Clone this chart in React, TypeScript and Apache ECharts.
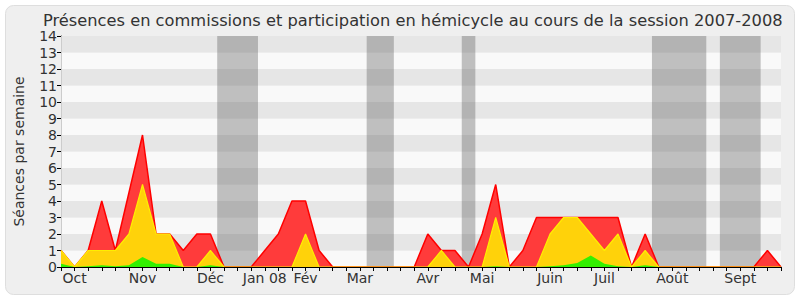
import React, { useEffect, useRef } from "react";
import * as echarts from "echarts";

// Weekly values (cumulative heights as drawn), 54 weeks from late Sept 2007 to Sept 2008
const presenceTotal = [1, 0, 1, 4, 1, 4.5, 8, 2, 2, 1, 2, 2, 0, 0, 0, 1, 2, 4, 4, 1, 0, 0, 0, 0, 0, 0, 0, 2, 1, 1, 0, 2, 5, 0, 1, 3, 3, 3, 3, 3, 3, 3, 0, 2, 0, 0, 0, 0, 0, 0, 0, 0, 1, 0];
const presenceHemicycle = [1, 0, 1, 1, 1, 2, 5, 2, 2, 0, 0, 1, 0, 0, 0, 0, 0, 0, 2, 0, 0, 0, 0, 0, 0, 0, 0, 0, 1, 0, 0, 0, 3, 0, 0, 0, 2, 3, 3, 2, 1, 2, 0, 1, 0, 0, 0, 0, 0, 0, 0, 0, 0, 0];
const interventions = [0.2, 0, 0.05, 0.1, 0.05, 0.1, 0.6, 0.2, 0.2, 0, 0, 0.1, 0, 0, 0, 0, 0, 0, 0, 0, 0, 0, 0, 0, 0, 0, 0, 0, 0, 0, 0, 0, 0.05, 0, 0, 0, 0.05, 0.1, 0.25, 0.7, 0.2, 0.05, 0, 0.1, 0, 0, 0, 0, 0, 0, 0, 0, 0, 0];

// Month tick labels: week index -> label
const monthWeeks = [1, 6, 11, 15, 18, 22, 27, 31, 36, 40, 45, 50];
const monthLabels = ["Oct", "Nov", "Déc", "Jan 08", "Fév", "Mar", "Avr", "Mai", "Juin", "Juil", "Août", "Sept"];

// Parliamentary recess periods (week ranges)
const recessStart = [11.5, 22.5, 29.5, 43.5, 48.5];
const recessEnd = [14.5, 24.5, 30.5, 47.5, 51.5];

const FONT = "DejaVu Sans";

export default function App() {
  const ref = useRef<HTMLDivElement>(null);
  useEffect(() => {
    if (!ref.current) return;
    const chart = echarts.init(ref.current, undefined, { renderer: "svg" });
    const toPairs = (arr: number[]) => arr.map((v, i) => [i, v]);
    const nWeeks = presenceTotal.length - 1;
    chart.setOption({
      animation: false,
      backgroundColor: "#ffffff",
      graphic: [
        {
          type: "rect",
          z: -10,
          shape: { x: 5.5, y: 5.5, width: 789, height: 289, r: 8 },
          style: { fill: "#efefef", stroke: "#dedede", lineWidth: 1 },
        },
      ],
      title: {
        text: "Présences en commissions et participation en hémicycle au cours de la session 2007-2008",
        left: 38,
        top: 7,
        textStyle: { fontFamily: FONT, fontSize: 16.25, fontWeight: "normal", color: "#333333" },
      },
      grid: { left: 61, right: 19, top: 36, bottom: 33, containLabel: false, show: false },
      xAxis: [
        {
          type: "value",
          min: 0,
          max: nWeeks,
          interval: 1,
          position: "bottom",
          z: 10,
          axisLine: { show: true, lineStyle: { color: "#000000", width: 1 } },
          axisTick: { show: true, length: 4, lineStyle: { color: "#000000" } },
          splitLine: { show: false },
          axisLabel: {
            fontFamily: FONT,
            fontSize: 14,
            color: "#333333",
            margin: 4,
            formatter: (v: number) => {
              const k = monthWeeks.indexOf(Math.round(v));
              return k >= 0 ? monthLabels[k] : "";
            },
          },
        },
        {
          type: "value",
          min: 0,
          max: nWeeks,
          interval: 1,
          position: "top",
          axisLine: { show: false },
          axisTick: { show: true, inside: true, length: 1.5, lineStyle: { color: "#000000" } },
          axisLabel: { show: false },
          splitLine: { show: false },
        },
      ],
      yAxis: [
        {
          type: "value",
          min: 0,
          max: 14,
          interval: 1,
          name: "Séances par semaine",
          nameLocation: "middle",
          nameGap: 35,
          nameTextStyle: { fontFamily: FONT, fontSize: 14, color: "#333333" },
          axisLine: { show: true, lineStyle: { color: "#000000" } },
          axisTick: { show: true, length: 4, lineStyle: { color: "#000000" } },
          axisLabel: { fontFamily: FONT, fontSize: 14, color: "#333333", margin: 4 },
          splitLine: { show: false },
          splitArea: { show: true, areaStyle: { color: ["#f9f9f9", "#e6e6e6"] } },
        },
        {
          type: "value",
          min: 0,
          max: 14,
          interval: 1,
          position: "right",
          axisLine: { show: true, lineStyle: { color: "#cccccc" } },
          axisTick: { show: false },
          axisLabel: { show: false },
          splitLine: { show: false },
        },
      ],
      series: [
        {
          type: "line",
          data: [],
          silent: true,
          z: 1,
          markArea: {
            silent: true,
            itemStyle: { color: "rgba(90,90,90,0.36)" },
            data: recessStart.map((s, i) => [{ xAxis: s }, { xAxis: recessEnd[i] }]),
          },
        },
        {
          name: "total",
          type: "line",
          data: toPairs(presenceTotal),
          symbol: "none",
          z: 2,
          lineStyle: { color: "#ff0000", width: 1.5 },
          areaStyle: { color: "#ff3b3b", opacity: 1 },
        },
        {
          name: "hemicycle",
          type: "line",
          data: toPairs(presenceHemicycle),
          symbol: "none",
          z: 3,
          lineStyle: { color: "#ffee00", width: 1.2 },
          areaStyle: { color: "#ffd20a", opacity: 1 },
        },
        {
          name: "interventions",
          type: "line",
          data: toPairs(interventions),
          symbol: "none",
          z: 4,
          lineStyle: { width: 0 },
          areaStyle: { color: "#33f000", opacity: 1 },
        },
      ],
    });
    return () => chart.dispose();
  }, []);
  return (
    <div
      ref={ref}
      style={{ position: "absolute", left: 0, top: 0, width: 800, height: 300 }}
    />
  );
}
